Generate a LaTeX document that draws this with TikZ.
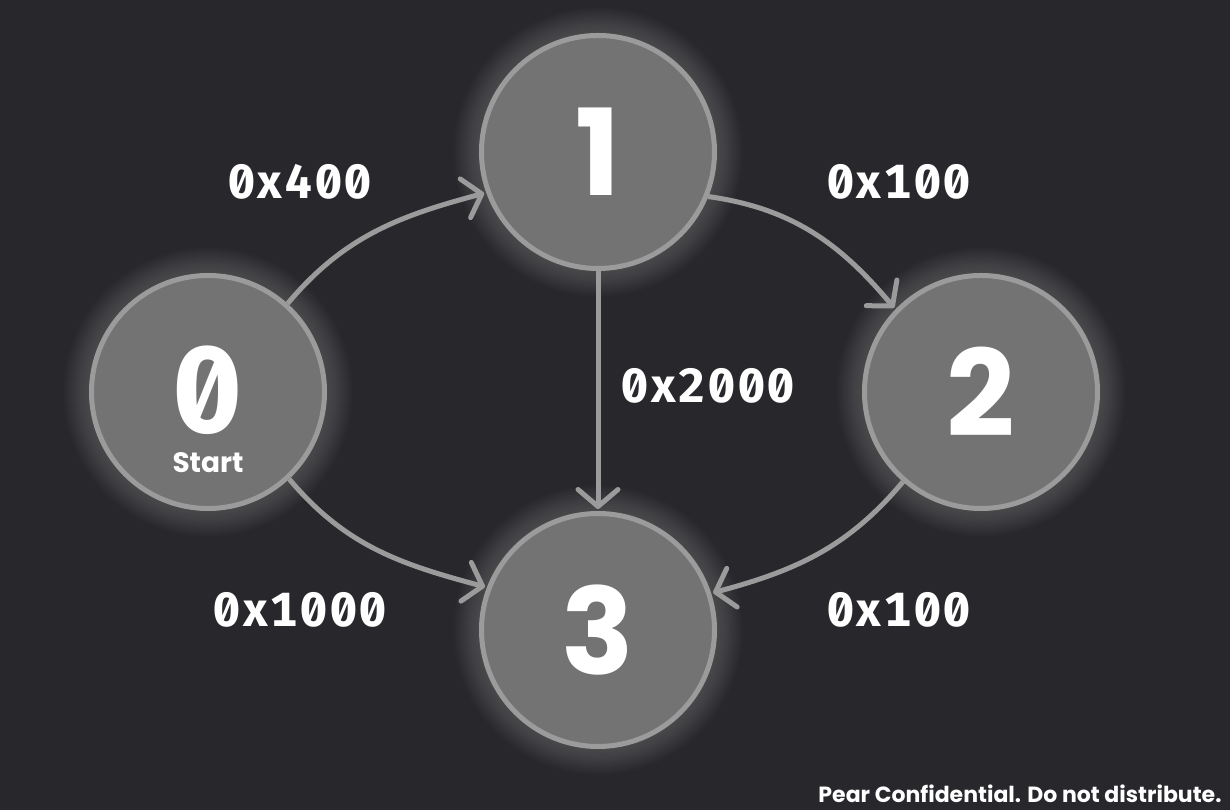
\documentclass[tikz,border=0pt]{standalone}
\usepackage{fontspec}
\setmainfont{Poppins}
\newfontfamily\monof[RawFeature={+zero;+tnum}]{Fira Sans}
\newfontfamily\labf[RawFeature={+zero;+tnum}, LetterSpace=6]{Fira Sans}
\usetikzlibrary{arrows.meta}
\definecolor{bg}{HTML}{28272C}
\definecolor{nodefill}{HTML}{737373}
\definecolor{nodeline}{HTML}{9B9B9B}
\begin{document}
\begin{tikzpicture}[x=1pt,y=1pt,
  state/.style={circle, fill=nodefill, draw=nodeline, line width=5pt, minimum size=233pt, inner sep=0pt, text=white, font=\fontsize{120}{120}\selectfont\bfseries},
  edge/.style={draw=nodeline, line width=5pt, shorten >=2pt, -{Straight Barb[length=17pt,width=40pt,line width=5pt,round]}},
  lab/.style={text=white, font=\labf\bfseries\fontsize{48}{48}\selectfont},
  glow/.style={fill=white, opacity=0.014}]
\fill[bg] (0,0) rectangle (1230,810);
\useasboundingbox (0,0) rectangle (1230,810);
\coordinate (c0) at (208,418);
\coordinate (c1) at (598,658);
\coordinate (c2) at (981,418);
\coordinate (c3) at (598,180);
\foreach \c in {c0,c1,c2,c3}{
  \foreach \r in {1,...,12}{
    \fill[glow] (\c) circle ({118+2.2*\r});
  }
}
\node[state] (n0) at (c0) {};
\node[state] (n1) at (c1) {1};
\node[state] (n2) at (c2) {2};
\node[state] (n3) at (c3) {3};
\node[text=white, font=\fontsize{28}{40}\selectfont\bfseries, align=center, inner sep=0pt, anchor=base] (z0) at (208,337) {{\monof\fontsize{122}{40}\selectfont 0}\\Start};
\draw[edge] (n0.48) to[out=50, in=195] (n1.200);
\draw[edge] (n1.338) to[out=-8, in=130] (n2.136);
\draw[edge] (n1.south) -- (n3.north);
\draw[edge] (n0.-47) to[out=-50, in=165] (n3.159);
\draw[edge] (n2.229) to[out=230, in=15] (n3.18);
\node[lab] (l01) at (300,628) {0x400};
\node[lab] (l12) at (899,628) {0x100};
\node[lab] (l13) at (708,424) {0x2000};
\node[lab] (l03) at (300,200) {0x1000};
\node[lab] (l23) at (899,200) {0x100};
\node[text=white, font=\fontsize{22}{22}\selectfont\bfseries, anchor=base east] (foot) at (1225,7) {Pear Confidential. Do not distribute.};
\end{tikzpicture}
\end{document}
